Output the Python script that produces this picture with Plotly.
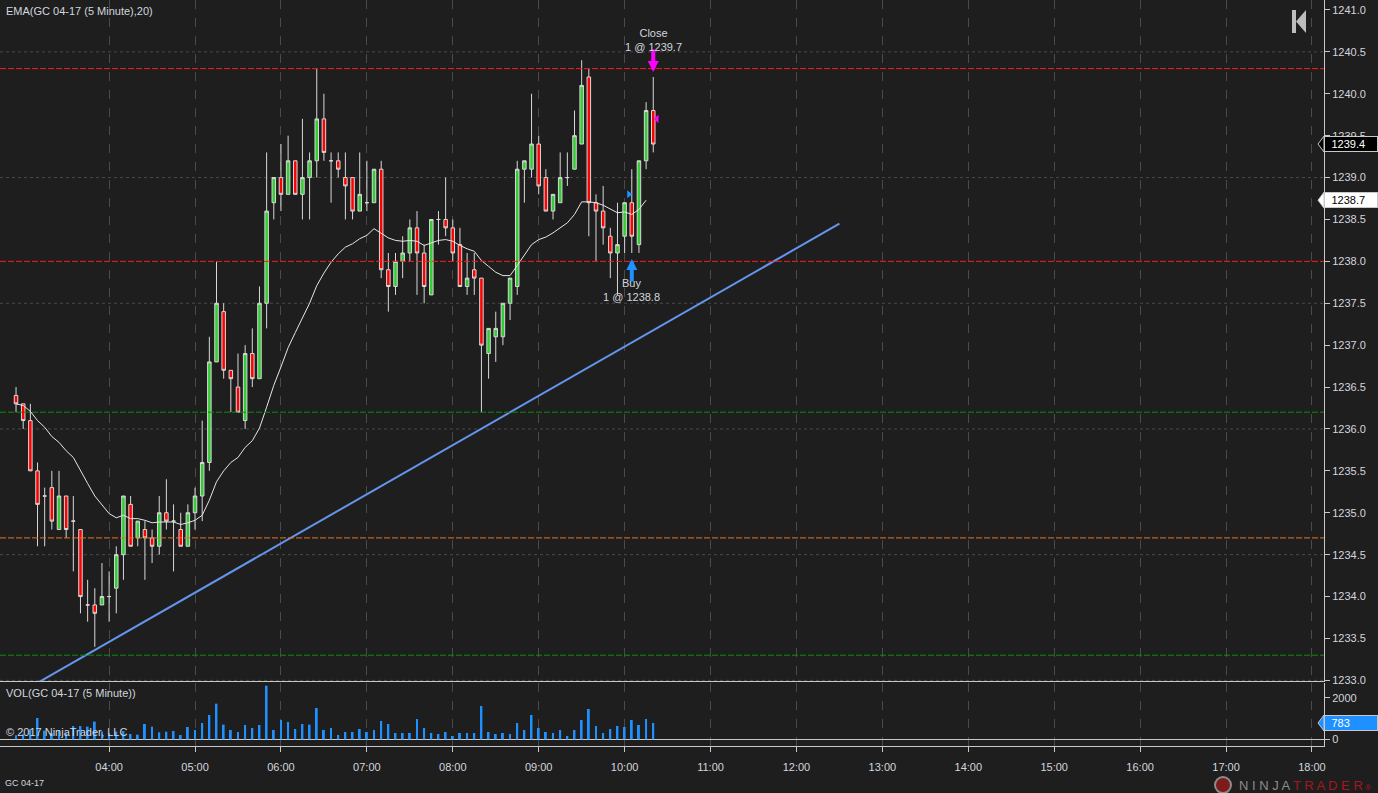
import pandas as pd
import plotly.graph_objs as go

# 5 minute bars, GC 04-17
times = pd.date_range('2017-02-22 02:55', periods=90, freq='5min')

opens = [1236.4, 1236.3, 1236.1, 1235.5, 1235.2, 1235.3, 1234.8, 1235.2, 1234.9, 1234.8,
         1233.9, 1233.9, 1233.9, 1234.0, 1234.1, 1234.5, 1235.1, 1234.7, 1234.8, 1234.7,
         1234.6, 1235.0, 1234.9, 1234.8, 1234.6, 1235.0, 1235.2, 1235.6, 1236.8, 1237.4,
         1236.7, 1236.5, 1236.1, 1236.9, 1236.6, 1237.5, 1238.7, 1239.0, 1238.8, 1239.2,
         1238.8, 1239.0, 1239.2, 1239.7, 1239.2, 1239.2, 1239.0, 1239.0, 1238.6, 1238.7,
         1238.7, 1239.1, 1237.9, 1237.7, 1238.0, 1238.1, 1238.4, 1238.1, 1237.6, 1238.5,
         1238.5, 1238.4, 1238.2, 1237.7, 1237.9, 1237.8, 1236.9, 1237.1, 1237.1, 1237.5,
         1237.7, 1239.1, 1239.1, 1239.4, 1239.0, 1238.6, 1238.7, 1239.0, 1239.1, 1239.4,
         1240.2, 1238.7, 1238.6, 1238.3, 1238.1, 1238.3, 1238.7, 1238.2, 1239.2, 1239.8]
highs = [1236.5, 1236.3, 1236.3, 1235.6, 1235.3, 1235.5, 1235.5, 1235.2, 1235.2, 1234.8,
         1234.2, 1234.1, 1234.4, 1234.3, 1234.6, 1235.2, 1235.2, 1234.9, 1234.9, 1234.8,
         1235.2, 1235.4, 1235.1, 1235.0, 1235.1, 1235.3, 1236.1, 1237.1, 1238.0, 1237.5,
         1236.7, 1236.9, 1237.0, 1237.2, 1237.7, 1239.3, 1239.0, 1239.4, 1239.5, 1239.2,
         1239.7, 1239.3, 1240.3, 1240.0, 1239.3, 1239.3, 1239.3, 1239.0, 1239.3, 1239.2,
         1239.1, 1239.2, 1238.1, 1238.1, 1238.3, 1238.5, 1238.6, 1238.2, 1238.5, 1238.6,
         1239.0, 1238.5, 1238.4, 1238.1, 1238.1, 1237.8, 1237.2, 1237.4, 1237.5, 1237.8,
         1239.2, 1239.2, 1240.0, 1239.5, 1239.1, 1238.8, 1239.3, 1239.3, 1239.8, 1240.4,
         1240.3, 1238.8, 1238.9, 1238.4, 1238.7, 1238.7, 1239.1, 1239.2, 1239.9, 1240.2]
lows = [1236.2, 1236.0, 1235.5, 1234.6, 1234.6, 1234.8, 1234.8, 1234.7, 1234.3, 1233.8,
        1233.7, 1233.4, 1233.9, 1233.7, 1233.8, 1234.2, 1234.6, 1234.6, 1234.2, 1234.4,
        1234.5, 1234.8, 1234.3, 1234.6, 1234.6, 1234.8, 1234.9, 1235.5, 1236.8, 1236.6,
        1236.2, 1236.2, 1236.0, 1236.5, 1236.6, 1237.2, 1238.5, 1238.6, 1238.8, 1238.8,
        1238.5, 1238.5, 1239.0, 1239.2, 1238.7, 1239.0, 1238.5, 1238.5, 1238.6, 1238.6,
        1238.7, 1237.8, 1237.4, 1237.6, 1237.8, 1238.0, 1237.6, 1237.5, 1237.6, 1238.2,
        1238.3, 1238.0, 1237.7, 1237.6, 1237.6, 1236.2, 1236.6, 1236.8, 1237.0, 1237.3,
        1237.6, 1238.7, 1239.0, 1238.8, 1238.6, 1238.5, 1238.7, 1238.9, 1239.1, 1239.4,
        1238.3, 1238.0, 1238.2, 1237.8, 1237.6, 1238.1, 1238.1, 1238.1, 1239.1, 1239.3]
closes = [1236.3, 1236.1, 1235.5, 1235.1, 1235.2, 1234.9, 1235.2, 1234.8, 1234.9, 1234.0,
          1233.9, 1233.8, 1234.0, 1234.0, 1234.5, 1235.2, 1234.6, 1234.9, 1234.7, 1234.6,
          1235.0, 1234.9, 1234.9, 1234.6, 1235.0, 1235.2, 1235.6, 1236.8, 1237.5, 1236.7,
          1236.6, 1236.2, 1236.9, 1236.6, 1237.5, 1238.6, 1239.0, 1238.8, 1239.2, 1238.8,
          1239.0, 1239.2, 1239.7, 1239.3, 1239.2, 1239.1, 1238.9, 1238.6, 1238.8, 1238.7,
          1239.1, 1237.9, 1237.7, 1238.0, 1238.1, 1238.4, 1238.1, 1237.7, 1238.5, 1238.5,
          1238.4, 1238.1, 1237.7, 1237.8, 1237.8, 1237.0, 1237.2, 1237.2, 1237.5, 1237.8,
          1239.1, 1239.2, 1239.4, 1238.9, 1238.6, 1238.8, 1239.0, 1239.0, 1239.5, 1240.1,
          1238.7, 1238.6, 1238.4, 1238.1, 1238.2, 1238.7, 1238.3, 1239.2, 1239.8, 1239.4]

volume = [200, 250, 480, 1024, 416, 290, 450, 290, 640, 640,
          610, 850, 370, 290, 370, 400, 256, 224, 736, 608,
          336, 368, 400, 208, 592, 448, 784, 1168, 1712, 704,
          448, 352, 688, 544, 688, 2576, 448, 928, 832, 496,
          736, 704, 1504, 448, 544, 208, 352, 352, 496, 352,
          448, 880, 736, 304, 304, 304, 976, 544, 304, 256,
          352, 160, 304, 304, 304, 1600, 352, 256, 304, 256,
          784, 448, 1168, 544, 352, 304, 448, 160, 448, 928,
          1456, 640, 304, 496, 640, 592, 928, 688, 976, 783]

# EMA(20) as plotted (drawn up to the last closed bar)
ema = [1236.30, 1236.28, 1236.21, 1236.10, 1236.02, 1235.91, 1235.84, 1235.74, 1235.66, 1235.50,
       1235.35, 1235.20, 1235.09, 1234.99, 1234.94, 1234.97, 1234.93, 1234.93, 1234.91, 1234.88,
       1234.89, 1234.89, 1234.89, 1234.86, 1234.88, 1234.91, 1234.97, 1235.15, 1235.37, 1235.50,
       1235.60, 1235.66, 1235.78, 1235.86, 1236.01, 1236.26, 1236.52, 1236.74, 1236.97, 1237.15,
       1237.32, 1237.50, 1237.71, 1237.86, 1237.99, 1238.09, 1238.17, 1238.21, 1238.27, 1238.31,
       1238.39, 1238.34, 1238.28, 1238.25, 1238.24, 1238.25, 1238.24, 1238.19, 1238.22, 1238.25,
       1238.26, 1238.24, 1238.19, 1238.15, 1238.12, 1238.01, 1237.94, 1237.87, 1237.83, 1237.83,
       1237.95, 1238.07, 1238.20, 1238.26, 1238.29, 1238.34, 1238.40, 1238.46, 1238.56, 1238.71,
       1238.71, 1238.70, 1238.67, 1238.62, 1238.58, 1238.59, 1238.56, 1238.62, 1238.73]

# drawing objects
trend_times = ['2017-02-22 03:10', '2017-02-22 12:30']
trend_prices = [1232.97, 1238.45]
level_prices = [1240.3, 1238.0, 1236.2, 1234.7, 1233.3]
level_colors = ['#ff1a1a', '#ff1a1a', '#0b8f0b', '#e8731c', '#0b8f0b']
grid_prices = [1233.0, 1234.5, 1236.0, 1237.5, 1239.0, 1240.5]
hour_ticks = pd.date_range('2017-02-22 04:00', '2017-02-22 18:00', freq='h')

# trades
buy_bar, buy_price = 86, 1238.8
close_bar, close_price = 89, 1239.7

FONT = 'Liberation Sans, Arial, sans-serif'
TXT = '#d2d6de'
AXC = '#c8c8c8'
BG = '#1e1e1e'

data = [
    go.Candlestick(x=times, open=opens, high=highs, low=lows, close=closes,
                   increasing=dict(fillcolor='#32cd32', line=dict(color='#d8d8d8', width=1)),
                   decreasing=dict(fillcolor='#ff0000', line=dict(color='#d8d8d8', width=1)),
                   whiskerwidth=0, xaxis='x', yaxis='y', showlegend=False),
    go.Scatter(x=times[:len(ema)], y=ema, mode='lines', line=dict(color='#e6e6e6', width=1),
               xaxis='x', yaxis='y', showlegend=False),
    go.Scatter(x=pd.to_datetime(trend_times), y=trend_prices, mode='lines',
               line=dict(color='#6495ed', width=2), xaxis='x', yaxis='y', showlegend=False),
    go.Scatter(x=[times[buy_bar] - pd.Timedelta(minutes=2)], y=[buy_price], mode='markers',
               marker=dict(symbol='triangle-right', size=7, color='#1e90ff'),
               xaxis='x', yaxis='y', showlegend=False),
    go.Scatter(x=[times[close_bar] + pd.Timedelta(minutes=2.5)], y=[close_price], mode='markers',
               marker=dict(symbol='triangle-left', size=7, color='#ff00ff'),
               xaxis='x', yaxis='y', showlegend=False),
    go.Bar(x=times, y=volume, width=80000, marker=dict(color='#1e90ff', line=dict(width=0)),
           xaxis='x2', yaxis='y2', showlegend=False),
]

shapes = []
for p in grid_prices:
    shapes.append(dict(type='line', xref='paper', x0=0, x1=1, yref='y', y0=p, y1=p, layer='below',
                       line=dict(color='#4a4a4a', width=1, dash='3px,3px')))
for p, c in zip(level_prices, level_colors):
    shapes.append(dict(type='line', xref='paper', x0=0, x1=1, yref='y', y0=p, y1=p,
                       line=dict(color=c, width=1, dash='6px,2px')))


def price_tag(value, yref, half, bg, fg, text):
    shapes.append(dict(type='path', xref='paper', yref=yref,
                       path=f'M 1 {value + half} L {1 - 6 / 1324} {value} L 1 {value - half} Z',
                       fillcolor=bg, line=dict(color=AXC, width=1)))
    return dict(x=1, xref='paper', xanchor='left', y=value, yref=yref, text='\u2002' + text,
                showarrow=False, bgcolor=bg, bordercolor=AXC, borderwidth=1, borderpad=1,
                width=50, align='left', font=dict(family=FONT, size=11, color=fg))


annotations = [
    dict(x=0, y=1, xref='paper', yref='paper', xanchor='left', yanchor='top', xshift=4, yshift=-3,
         text='EMA(GC 04-17 (5 Minute),20)', showarrow=False, font=dict(family=FONT, size=11, color=TXT)),
    dict(x=0, y=0.071, xref='paper', yref='paper', xanchor='left', yanchor='middle', xshift=4,
         text='VOL(GC 04-17 (5 Minute))', showarrow=False, font=dict(family=FONT, size=11, color=TXT)),
    dict(x=0, y=0.019, xref='paper', yref='paper', xanchor='left', yanchor='middle', xshift=4,
         text='© 2017 NinjaTrader, LLC', showarrow=False, font=dict(family=FONT, size=11, color=TXT)),
    dict(x=0, y=-0.0496, xref='paper', yref='paper', xanchor='left', yanchor='middle', xshift=3,
         text='GC 04-17', showarrow=False, font=dict(family=FONT, size=9, color=TXT)),
    dict(x=1237 / 1324, y=-0.0523, xref='paper', yref='paper', xanchor='left', yanchor='middle',
         text='<span style="color:#8c8c8c">N I N J A </span><span style="color:#a3181c">T R A D E R</span>'
              '<span style="color:#a3181c;font-size:8px"> ®</span>',
         showarrow=False, font=dict(family=FONT, size=13)),
    # trade arrows
    dict(x=times[buy_bar], y=lows[buy_bar], xref='x', yref='y', yshift=-6, text='', showarrow=True,
         ax=0, ay=24, arrowhead=2, arrowsize=0.55, arrowwidth=4, arrowcolor='#1e90ff'),
    dict(x=times[close_bar], y=highs[close_bar], xref='x', yref='y', yshift=5, text='', showarrow=True,
         ax=0, ay=-24, arrowhead=2, arrowsize=0.55, arrowwidth=4, arrowcolor='#ff00ff'),
    dict(x=times[buy_bar], y=lows[buy_bar], xref='x', yref='y', yshift=-22, yanchor='top',
         text=f'Buy<br>1 @ {buy_price:.1f}', showarrow=False,
         font=dict(family=FONT, size=11, color=TXT)),
    dict(x=times[close_bar], y=highs[close_bar], xref='x', yref='y', yshift=22, yanchor='bottom',
         text=f'Close<br>1 @ {close_price:.1f}', showarrow=False,
         font=dict(family=FONT, size=11, color=TXT)),
]
annotations.append(price_tag(closes[-1], 'y', 0.095, '#000000', '#ffffff', f'{closes[-1]:.1f}'))
annotations.append(price_tag(ema[-1], 'y', 0.095, '#ffffff', '#000000', f'{ema[-1]:.1f}'))
annotations.append(price_tag(volume[-1], 'y2', 385, '#1e90ff', '#ffffff', f'{volume[-1]}'))

# end-of-chart icon (top right)
shapes.append(dict(type='rect', xref='paper', yref='paper', x0=1292 / 1324, x1=1296 / 1324,
                   y0=(746 - 33) / 746, y1=(746 - 10) / 746, fillcolor='#bdbdbd', line=dict(width=0)))
shapes.append(dict(type='path', xref='paper', yref='paper',
                   path=f'M {1296 / 1324} {(746 - 21.5) / 746} L {1306 / 1324} {(746 - 10) / 746} '
                        f'L {1306 / 1324} {(746 - 33) / 746} Z',
                   fillcolor='#bdbdbd', line=dict(width=0)))
# logo ring
shapes.append(dict(type='circle', xref='paper', yref='paper', x0=1215 / 1324, x1=1231 / 1324,
                   y0=(746 - 793) / 746, y1=(746 - 777) / 746, fillcolor='#7d1a1a',
                   line=dict(color='#8c8c8c', width=2)))

x_range = ['2017-02-22 02:43:48', '2017-02-22 18:08:24']
grid_x = dict(showgrid=True, gridcolor='#4a4a4a', griddash='dash', gridwidth=1,
              tickvals=hour_ticks, range=x_range)

layout = go.Layout(
    width=1378, height=793, paper_bgcolor=BG, plot_bgcolor=BG,
    margin=dict(l=0, r=54, t=0, b=47), showlegend=False, hovermode=False,
    font=dict(family=FONT, size=11, color=TXT),
    xaxis=dict(grid_x, anchor='y', showticklabels=False, ticks='', showline=True, linecolor=AXC,
               linewidth=1, zeroline=False, rangeslider=dict(visible=False)),
    xaxis2=dict(grid_x, anchor='y2', matches='x', tickformat='%H:%M', ticks='outside', ticklen=5,
                tickcolor=AXC, showline=True, linecolor=AXC, linewidth=1, zeroline=False,
                ticklabelstandoff=6, tickfont=dict(family=FONT, size=11, color=TXT)),
    yaxis=dict(domain=[0.0871, 1], anchor='x', side='right', range=[1232.992, 1241.119],
               tick0=1233, dtick=0.5, tickformat='.1f', ticks='outside', ticklen=5, tickcolor=AXC,
               showline=True, linecolor=AXC, linewidth=1, showgrid=False, zeroline=False,
               tickfont=dict(family=FONT, size=11, color=TXT)),
    yaxis2=dict(domain=[0, 0.0845], anchor='x2', side='right', range=[-322, 2707],
                tickvals=[0, 2000], ticks='outside', ticklen=5, tickcolor=AXC,
                showline=True, linecolor=AXC, linewidth=1, showgrid=False,
                zeroline=True, zerolinecolor=AXC, zerolinewidth=1,
                tickfont=dict(family=FONT, size=11, color=TXT)),
    shapes=shapes, annotations=annotations,
)

fig = go.Figure(data=data, layout=layout)
fig.write_html('out.html', config={'displayModeBar': False},
               post_script="document.body.style.margin='0';document.body.style.overflow='hidden';")
